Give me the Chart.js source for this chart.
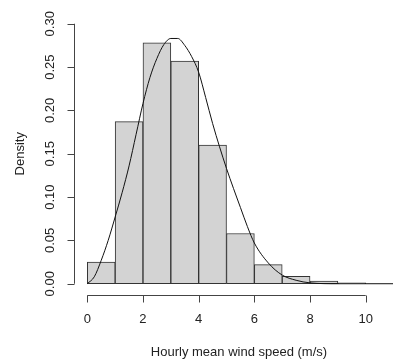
<!DOCTYPE html>
<html>
<head>
<meta charset="utf-8">
<script src="https://cdn.jsdelivr.net/npm/chart.js@4/dist/chart.umd.min.js"></script>
<style>
  body { margin: 0; background: #fff; }
  canvas { display: block; }
</style>
</head>
<body>
<canvas id="chart" width="393" height="360"></canvas>
<script>
// histogram bins (m/s) and densities
const binStarts = [0, 1, 2, 3, 4, 5, 6, 7, 8, 9]
const densities = [0.025, 0.187, 0.278, 0.257, 0.160, 0.058, 0.022, 0.0085, 0.003, 0.001]

// fitted curve
const curveX = [0, 0.25, 0.5, 0.75, 1, 1.25, 1.5, 1.75, 2, 2.25, 2.5, 2.75, 3, 3.25, 3.5, 3.75, 4, 4.25, 4.5, 4.75, 5, 5.25, 5.5, 5.75, 6, 6.5, 7, 7.5, 8, 9, 10, 11]
const curveY = [0, 0.008, 0.027, 0.05, 0.077, 0.105, 0.136, 0.172, 0.208, 0.238, 0.26, 0.276, 0.283, 0.283, 0.275, 0.262, 0.244, 0.215, 0.185, 0.158, 0.133, 0.11, 0.088, 0.066, 0.047, 0.024, 0.010, 0.004, 0.001, 0, 0, 0]

// axis ticks
const xTicks = [0, 2, 4, 6, 8, 10]
const yTicks = [0, 0.05, 0.10, 0.15, 0.20, 0.25, 0.30]
const yTickLabels = ['0.00', '0.05', '0.10', '0.15', '0.20', '0.25', '0.30']

const xTitle = 'Hourly mean wind speed (m/s)'
const yTitle = 'Density'

const font = '13px "Liberation Sans", Arial, sans-serif'
const textColor = '#222'
const axisColor = '#444'

// R style axes drawn through the chart scales
const rAxes = {
  id: 'rAxes',
  afterDraw(chart) {
    const ctx = chart.ctx
    const xs = chart.scales.x
    const ys = chart.scales.y
    const area = chart.chartArea
    ctx.save()
    ctx.strokeStyle = axisColor
    ctx.lineWidth = 1
    ctx.fillStyle = textColor
    ctx.font = font

    // x axis
    const axY = Math.round(area.bottom) + 0.5
    ctx.beginPath()
    ctx.moveTo(xs.getPixelForValue(xTicks[0]), axY)
    ctx.lineTo(xs.getPixelForValue(xTicks[xTicks.length - 1]), axY)
    xTicks.forEach(t => {
      const px = Math.round(xs.getPixelForValue(t)) + 0.5
      ctx.moveTo(px, axY)
      ctx.lineTo(px, axY + 7)
    })
    ctx.stroke()
    ctx.textAlign = 'center'
    ctx.textBaseline = 'middle'
    xTicks.forEach(t => {
      ctx.fillText(String(t), xs.getPixelForValue(t), axY + 24)
    })

    // y axis
    const axX = Math.round(area.left) + 0.5
    ctx.beginPath()
    ctx.moveTo(axX, ys.getPixelForValue(yTicks[0]))
    ctx.lineTo(axX, ys.getPixelForValue(yTicks[yTicks.length - 1]))
    yTicks.forEach(t => {
      const py = Math.round(ys.getPixelForValue(t)) + 0.5
      ctx.moveTo(axX, py)
      ctx.lineTo(axX - 7, py)
    })
    ctx.stroke()
    yTicks.forEach((t, i) => {
      ctx.save()
      ctx.translate(axX - 24, ys.getPixelForValue(t))
      ctx.rotate(-Math.PI / 2)
      ctx.fillText(yTickLabels[i], 0, 0)
      ctx.restore()
    })

    // titles
    ctx.fillText(xTitle, 239, 352)
    ctx.save()
    ctx.translate(20, (ys.getPixelForValue(0) + ys.getPixelForValue(0.3)) / 2)
    ctx.rotate(-Math.PI / 2)
    ctx.fillText(yTitle, 0, 0)
    ctx.restore()
    ctx.restore()
  }
}

new Chart(document.getElementById('chart'), {
  type: 'bar',
  data: {
    datasets: [
      {
        type: 'bar',
        data: binStarts.map((b, i) => ({ x: b + 0.5, y: densities[i] })),
        backgroundColor: '#d3d3d3',
        borderColor: '#333',
        borderWidth: 1,
        borderSkipped: false,
        barPercentage: 1,
        categoryPercentage: 1,
        order: 2
      },
      {
        type: 'line',
        data: curveX.map((x, i) => ({ x: x, y: curveY[i] })),
        borderColor: '#111',
        borderWidth: 1,
        pointRadius: 0,
        cubicInterpolationMode: 'monotone',
        fill: false,
        order: 1
      }
    ]
  },
  options: {
    responsive: false,
    animation: false,
    layout: { padding: { left: 74, right: 0, top: 13, bottom: 65 } },
    plugins: { legend: { display: false }, tooltip: { enabled: false } },
    scales: {
      x: { type: 'linear', min: -0.478, max: 10.98, offset: false, display: false },
      y: { type: 'linear', min: -0.013, max: 0.3124, display: false }
    }
  },
  plugins: [rAxes]
})
</script>
</body>
</html>
